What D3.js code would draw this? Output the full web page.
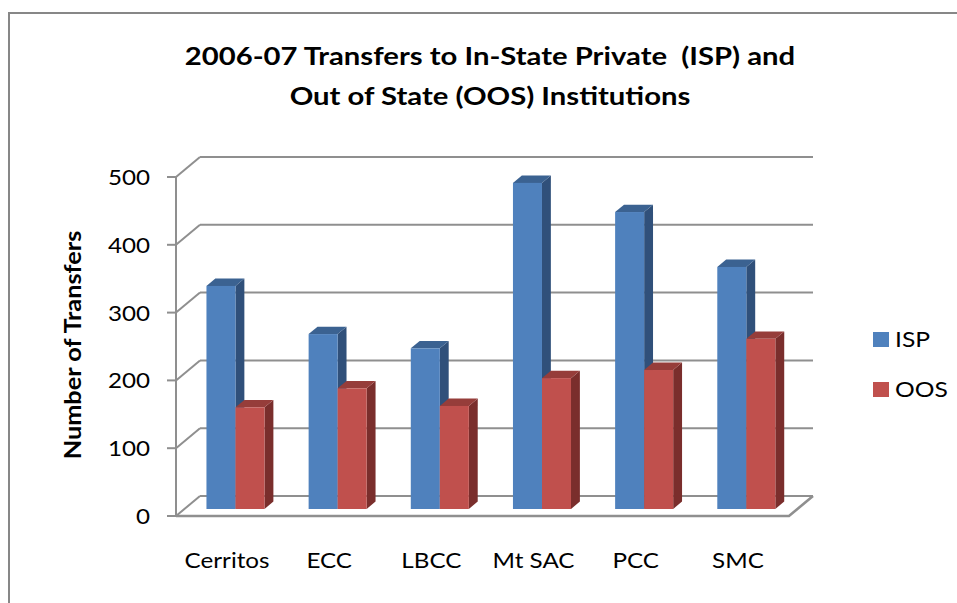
<!DOCTYPE html>
<html>
<head>
<meta charset="utf-8">
<script src="https://cdn.jsdelivr.net/npm/d3@7"></script>
<style>
  body { margin: 0; background: #fff; }
  text { font-family: Lato, "Open Sans", sans-serif; fill: #000; }
</style>
</head>
<body>
<svg id="chart" width="957" height="603"></svg>
<script>
// data
var categories = ["Cerritos", "ECC", "LBCC", "Mt SAC", "PCC", "SMC"];
var series = ["ISP", "OOS"];
var ispValues = [329, 258, 237, 481, 438, 357];
var oosValues = [150, 178, 152, 193, 205, 251];
var yTicks = [0, 100, 200, 300, 400, 500];
var titleLines = ["2006-07 Transfers to In-State Private  (ISP) and", "Out of State (OOS) Institutions"];

var data = categories.map(function(c, i) {
	return {cat: c, ISP: ispValues[i], OOS: oosValues[i]};
});

var svg = d3.select("#chart");

// 3d depth of the plot box (back wall offset)
var DX = 24, DY = -20;
// bars sit between these fractions of the depth
var fFront = 0.35, fBack = 0.72;

var faces = {
	ISP: {front: "#4f81bd", top: "#3b6291", side: "#30507a"},
	OOS: {front: "#c0504d", top: "#963d3a", side: "#7a2e2c"}
};

// the original font is narrower and taller than Lato, so widen the text a bit
function stretch(sel, k) {
	sel.each(function() {
		var w = this.getComputedTextLength();
		d3.select(this)
			.attr("textLength", w * k)
			.attr("lengthAdjust", "spacingAndGlyphs");
	});
}

var x = d3.scaleBand()
	.domain(categories)
	.range([176, 789]);

var xs = d3.scaleBand()
	.domain(series)
	.range([0, x.bandwidth()])
	.paddingInner(0)
	.paddingOuter(0.76);

var y = d3.scaleLinear()
	.domain([0, 500])
	.range([516, 177]);

// frame
svg.append("rect")
	.attr("x", 9).attr("y", 13)
	.attr("width", 1000).attr("height", 700)
	.attr("fill", "none")
	.attr("stroke", "#878787")
	.attr("stroke-width", 2);

// title
svg.append("g").selectAll("text")
	.data(titleLines)
	.enter().append("text")
	.attr("x", 490)
	.attr("y", (d, i) => 65 + i * 40)
	.attr("text-anchor", "middle")
	.attr("font-size", 25)
	.attr("font-weight", "bold")
	.style("white-space", "pre")
	.text(d => d)
	.call(stretch, 1.17);

var grid = svg.append("g").attr("stroke", "#8f8f8f").attr("stroke-width", 2).attr("fill", "none");

// back wall gridlines
grid.selectAll("line.back")
	.data(yTicks)
	.enter().append("line")
	.attr("class", "back")
	.attr("x1", x.range()[0] + DX)
	.attr("x2", x.range()[1] + DX)
	.attr("y1", d => y(d) + DY)
	.attr("y2", d => y(d) + DY);

// side wall diagonals
grid.selectAll("line.side")
	.data(yTicks)
	.enter().append("line")
	.attr("class", "side")
	.attr("x1", x.range()[0])
	.attr("x2", x.range()[0] + DX)
	.attr("y1", d => y(d))
	.attr("y2", d => y(d) + DY);

// floor front edge and right diagonal
grid.append("path")
	.attr("stroke-width", 2.6)
	.attr("d", `M${x.range()[0]},${y(0)}H${x.range()[1]}L${x.range()[1] + DX},${y(0) + DY}`);

// value axis
grid.append("line")
	.attr("x1", x.range()[0]).attr("x2", x.range()[0])
	.attr("y1", y(500)).attr("y2", y(0));

grid.selectAll("line.tick")
	.data(yTicks)
	.enter().append("line")
	.attr("class", "tick")
	.attr("x1", x.range()[0] - 9)
	.attr("x2", x.range()[0])
	.attr("y1", d => y(d))
	.attr("y2", d => y(d));

svg.append("g").selectAll("text")
	.data(yTicks)
	.enter().append("text")
	.attr("x", 150)
	.attr("y", d => y(d))
	.attr("dy", "0.36em")
	.attr("text-anchor", "end")
	.attr("font-size", 22)
	.attr("fill", "#262626")
	.text(d => d)
	.call(stretch, 1.1);

svg.append("text")
	.attr("transform", "translate(81,345) rotate(-90)")
	.attr("text-anchor", "middle")
	.attr("font-size", 22)
	.attr("font-weight", "bold")
	.text("Number of Transfers")
	.call(stretch, 1.15);

// bars
var fx = fFront * DX, fy = fFront * DY;
var bx = (fBack - fFront) * DX, by = (fBack - fFront) * DY;

var bars = [];
data.forEach(function(d) {
	series.forEach(function(s) {
		bars.push({cat: d.cat, key: s, value: d[s]});
	});
});

var barG = svg.append("g").selectAll("g.bar")
	.data(bars)
	.enter().append("g")
	.attr("class", "bar");

function barGeom(d) {
	var x0 = x(d.cat) + xs(d.key) + fx;
	var x1 = x0 + xs.bandwidth();
	var yt = y(d.value) + fy;
	var yb = y(0) + fy;
	return {x0: x0, x1: x1, yt: yt, yb: yb};
}

barG.append("path")
	.attr("fill", d => faces[d.key].side)
	.attr("d", function(d) {
		var g = barGeom(d);
		return `M${g.x1},${g.yt}L${g.x1 + bx},${g.yt + by}L${g.x1 + bx},${g.yb + by}L${g.x1},${g.yb}Z`;
	});

barG.append("path")
	.attr("fill", d => faces[d.key].top)
	.attr("d", function(d) {
		var g = barGeom(d);
		return `M${g.x0},${g.yt}L${g.x1},${g.yt}L${g.x1 + bx},${g.yt + by}L${g.x0 + bx},${g.yt + by}Z`;
	});

barG.append("rect")
	.attr("fill", d => faces[d.key].front)
	.attr("x", d => barGeom(d).x0)
	.attr("y", d => barGeom(d).yt)
	.attr("width", xs.bandwidth())
	.attr("height", d => y(0) - y(d.value));

// category labels
svg.append("g").selectAll("text")
	.data(categories)
	.enter().append("text")
	.attr("x", d => x(d) + x.bandwidth() / 2)
	.attr("y", 568)
	.attr("text-anchor", "middle")
	.attr("font-size", 22)
	.attr("fill", "#262626")
	.text(d => d)
	.call(stretch, 1.1);

// legend
var legend = svg.append("g").selectAll("g")
	.data(series)
	.enter().append("g")
	.attr("transform", (d, i) => `translate(873,${332 + i * 50})`);

legend.append("rect")
	.attr("width", 16).attr("height", 15)
	.attr("fill", d => faces[d].front);

legend.append("text")
	.attr("x", 22)
	.attr("y", 15)
	.attr("font-size", 22)
	.attr("fill", "#262626")
	.text(d => d)
	.call(stretch, 1.12);
</script>
</body>
</html>
